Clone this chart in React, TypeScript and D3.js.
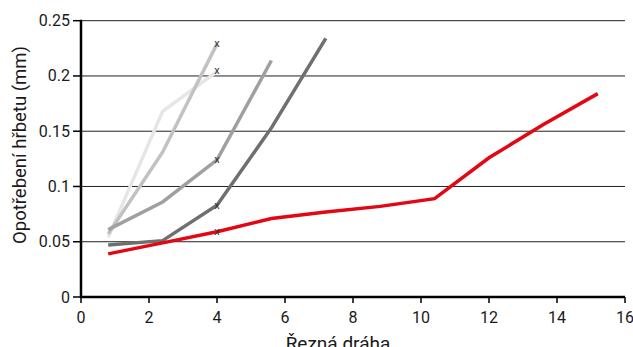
import React from "react";
import * as d3 from "d3";

const xTicks = [0, 2, 4, 6, 8, 10, 12, 14, 16];
const yTicks = [0, 0.05, 0.1, 0.15, 0.2, 0.25];
const yTickLabels = ["0", "0.05", "0.1", "0.15", "0.2", "0.25"];

const xVeryLight = [0.8, 2.4, 4];
const yVeryLight = [0.054, 0.168, 0.204];
const xLight = [0.8, 2.4, 4];
const yLight = [0.057, 0.131, 0.229];
const xMedium = [0.8, 2.4, 4, 5.6];
const yMedium = [0.061, 0.086, 0.124, 0.214];
const xDark = [0.8, 2.4, 4, 5.6, 7.2];
const yDark = [0.047, 0.051, 0.083, 0.153, 0.234];
const xRed = [0.8, 2.4, 4, 5.6, 7.2, 8.8, 10.4, 12, 13.6, 15.2];
const yRed = [0.039, 0.049, 0.059, 0.071, 0.077, 0.082, 0.089, 0.126, 0.156, 0.184];

const markerX = [4, 4, 4, 4, 4];
const markerY = [0.229, 0.205, 0.124, 0.083, 0.059];

const series = [
  { xs: xVeryLight, ys: yVeryLight, color: "#e6e6e6" },
  { xs: xLight, ys: yLight, color: "#c2c2c2" },
  { xs: xMedium, ys: yMedium, color: "#a0a0a0" },
  { xs: xDark, ys: yDark, color: "#6f6f6f" },
  { xs: xRed, ys: yRed, color: "#e30613" },
];

const W = 633;
const H = 347;
const left = 81;
const right = 625;
const top = 20.7;
const bottom = 297;

export default function App() {
  const x = d3.scaleLinear().domain([0, 16]).range([left, right]);
  const y = d3.scaleLinear().domain([0, 0.25]).range([bottom, top]);
  const line = d3
    .line<[number, number]>()
    .x((d) => x(d[0]))
    .y((d) => y(d[1]));
  const font = "Roboto, 'DejaVu Sans', sans-serif";

  return (
    <svg
      width={W}
      height={H}
      style={{ position: "absolute", left: 0, top: 0, background: "#fff" }}
      fontFamily={font}
    >
      {yTicks.slice(1).map((t) => (
        <line key={"g" + t} x1={left} x2={right} y1={y(t)} y2={y(t)} stroke="#222" strokeWidth={1} />
      ))}
      {series.map((s, i) => (
        <path
          key={i}
          d={line(s.xs.map((v, j) => [v, s.ys[j]]) as [number, number][]) || ""}
          fill="none"
          stroke={s.color}
          strokeWidth={3.5}
          strokeLinejoin="miter"
        />
      ))}
      {markerX.map((mx, i) => (
        <text
          key={"m" + i}
          x={x(mx)}
          y={y(markerY[i])}
          fontSize={11}
          fill="#333"
          textAnchor="middle"
          dominantBaseline="central"
        >
          x
        </text>
      ))}
      <line x1={left} x2={left} y1={top - 1} y2={bottom + 1} stroke="#000" strokeWidth={2.5} />
      <line x1={left - 1} x2={right} y1={bottom} y2={bottom} stroke="#000" strokeWidth={2.5} />
      {yTicks.map((t, i) => (
        <g key={"yt" + t}>
          <line x1={left - 8} x2={left} y1={y(t)} y2={y(t)} stroke="#000" strokeWidth={1.5} />
          <text x={left - 11} y={y(t)} fontSize={16} textAnchor="end" dominantBaseline="central" fill="#1a1a1a">
            {yTickLabels[i]}
          </text>
        </g>
      ))}
      {xTicks.map((t) => (
        <g key={"xt" + t}>
          <line x1={x(t)} x2={x(t)} y1={bottom} y2={bottom + 6} stroke="#000" strokeWidth={1.5} />
          <text x={x(t)} y={bottom + 20} fontSize={16} textAnchor="middle" dominantBaseline="central" fill="#1a1a1a">
            {t}
          </text>
        </g>
      ))}
      <text
        transform={`translate(20, 145) rotate(-90)`}
        fontSize={18.5}
        textAnchor="middle"
        dominantBaseline="central"
        fill="#1a1a1a"
      >
        Opotřebení hřbetu (mm)
      </text>
      <text x={338} y={350} fontSize={19} textAnchor="middle" fill="#1a1a1a">
        Řezná dráha
      </text>
    </svg>
  );
}
